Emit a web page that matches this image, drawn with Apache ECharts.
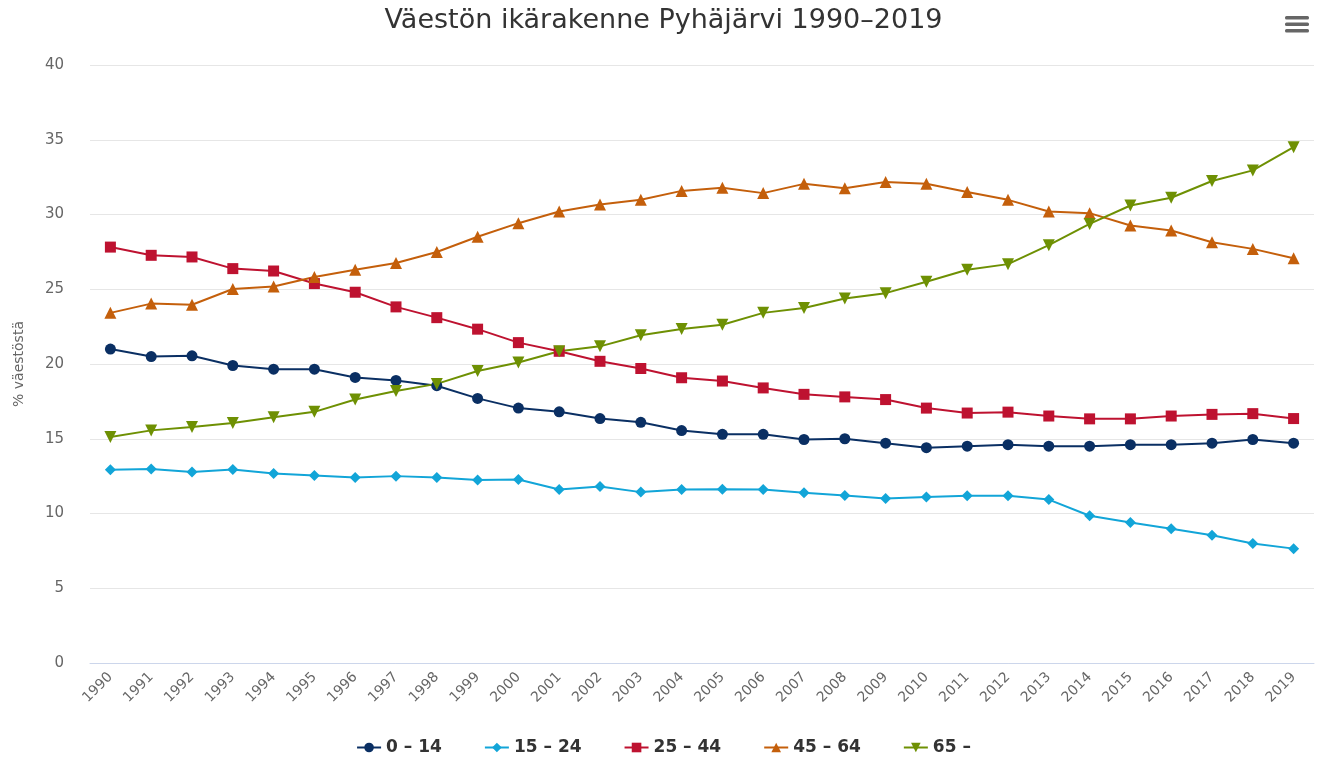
<!DOCTYPE html>
<html>
<head>
<meta charset="utf-8">
<script src="https://cdn.jsdelivr.net/npm/echarts@6/dist/echarts.min.js"></script>
<style>
  html, body { margin: 0; padding: 0; background: #fff; }
  #chart { width: 1327px; height: 763px; }
</style>
</head>
<body>
<div id="chart"></div>
<script>
  // vuodet
  const years = ['1990', '1991', '1992', '1993', '1994', '1995', '1996', '1997', '1998', '1999',
    '2000', '2001', '2002', '2003', '2004', '2005', '2006', '2007', '2008', '2009',
    '2010', '2011', '2012', '2013', '2014', '2015', '2016', '2017', '2018', '2019']

  // ikäryhmien osuudet (% väestöstä)
  const age0_14 = [21.0, 20.5, 20.55, 19.9, 19.65, 19.65, 19.1, 18.9, 18.55, 17.7,
    17.05, 16.8, 16.35, 16.1, 15.55, 15.3, 15.3, 14.95, 15.0, 14.7,
    14.4, 14.5, 14.6, 14.5, 14.5, 14.6, 14.6, 14.7, 14.95, 14.7]
  const age15_24 = [12.93, 12.97, 12.77, 12.95, 12.68, 12.55, 12.41, 12.5, 12.41, 12.24,
    12.28, 11.61, 11.81, 11.43, 11.6, 11.63, 11.6, 11.39, 11.2, 11.0,
    11.1, 11.18, 11.18, 10.93, 9.85, 9.4, 8.98, 8.55, 8.0, 7.65]
  const age25_44 = [27.82, 27.27, 27.16, 26.38, 26.22, 25.38, 24.8, 23.82, 23.1, 22.33,
    21.43, 20.85, 20.18, 19.7, 19.08, 18.86, 18.4, 17.97, 17.8, 17.62,
    17.05, 16.72, 16.78, 16.52, 16.33, 16.33, 16.52, 16.63, 16.68, 16.35]
  const age45_64 = [23.42, 24.04, 23.96, 25.02, 25.18, 25.82, 26.31, 26.76, 27.49, 28.51,
    29.42, 30.2, 30.67, 30.98, 31.58, 31.79, 31.43, 32.05, 31.76, 32.17,
    32.06, 31.5, 30.98, 30.2, 30.09, 29.26, 28.93, 28.14, 27.7, 27.07]
  const age65 = [15.11, 15.56, 15.78, 16.05, 16.44, 16.8, 17.62, 18.2, 18.67, 19.53,
    20.1, 20.85, 21.18, 21.92, 22.34, 22.63, 23.42, 23.75, 24.38, 24.74,
    25.5, 26.3, 26.68, 27.95, 29.37, 30.6, 31.12, 32.24, 32.95, 34.5]

  const yTicks = { min: 0, max: 40, interval: 5 }

  let myChart = echarts.init(document.getElementById('chart'))

  function lineSeries(name, data, color, symbol, size, rotate) {
    return {
      name: name,
      type: 'line',
      data: data,
      symbol: symbol,
      symbolSize: size,
      symbolRotate: rotate || 0,
      showAllSymbol: true,
      lineStyle: { width: 2, color: color },
      itemStyle: { color: color },
      emphasis: { disabled: true }
    }
  }

  myChart.setOption({
    animation: false,
    textStyle: { fontFamily: 'DejaVu Sans' },
    title: {
      text: 'Väestön ikärakenne Pyhäjärvi 1990–2019',
      left: 'center',
      top: 2,
      textStyle: {
        fontFamily: 'DejaVu Sans',
        fontSize: 27,
        fontWeight: 'normal',
        color: '#333333'
      }
    },
    legend: {
      bottom: 2,
      left: 'center',
      itemGap: 42,
      itemWidth: 24,
      itemHeight: 12,
      textStyle: {
        fontFamily: 'DejaVu Sans',
        fontSize: 17,
        fontWeight: 'bold',
        color: '#333333'
      },
      data: ['0 – 14', '15 – 24', '25 – 44', '45 – 64', '65 –']
    },
    grid: {
      left: 90,
      right: 13,
      top: 65,
      bottom: 100,
      containLabel: false
    },
    xAxis: {
      type: 'category',
      data: years,
      boundaryGap: true,
      axisLine: { lineStyle: { color: '#ccd6eb', width: 1 } },
      axisTick: { show: false },
      axisLabel: {
        interval: 0,
        rotate: 45,
        margin: 12,
        fontSize: 14,
        color: '#666666'
      },
      splitLine: { show: false }
    },
    yAxis: {
      type: 'value',
      min: yTicks.min,
      max: yTicks.max,
      interval: yTicks.interval,
      name: '% väestöstä',
      nameLocation: 'middle',
      nameRotate: 90,
      nameGap: 64,
      nameTextStyle: { fontSize: 14, color: '#666666' },
      axisLine: { show: false },
      axisTick: { show: false },
      axisLabel: { fontSize: 15, color: '#666666', margin: 26 },
      splitLine: { lineStyle: { color: '#e6e6e6', width: 1 } }
    },
    graphic: [
      { type: 'rect', right: 18, top: 16, shape: { width: 24, height: 3.5, r: 1.5 }, style: { fill: '#666666' } },
      { type: 'rect', right: 18, top: 22.5, shape: { width: 24, height: 3.5, r: 1.5 }, style: { fill: '#666666' } },
      { type: 'rect', right: 18, top: 29, shape: { width: 24, height: 3.5, r: 1.5 }, style: { fill: '#666666' } }
    ],
    series: [
      lineSeries('0 – 14', age0_14, '#0a2f63', 'circle', 11),
      lineSeries('15 – 24', age15_24, '#12a5d8', 'diamond', 11),
      lineSeries('25 – 44', age25_44, '#be1230', 'rect', 11),
      lineSeries('45 – 64', age45_64, '#c45f0b', 'triangle', 12),
      lineSeries('65 –', age65, '#6e9003', 'triangle', 12, 180)
    ]
  })
</script>
</body>
</html>
